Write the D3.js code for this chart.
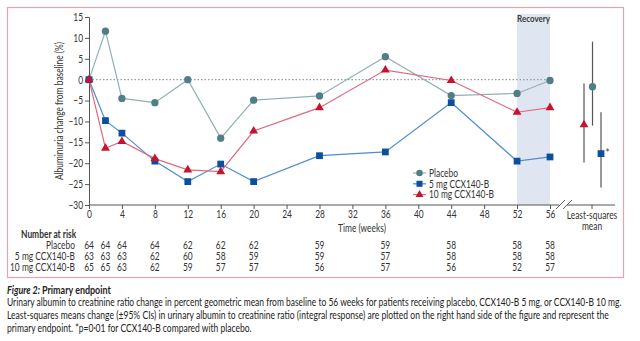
<!DOCTYPE html>
<html>
<head>
<meta charset="utf-8">
<title>Primary endpoint</title>
<script src="https://cdn.jsdelivr.net/npm/d3@7"></script>
<style>
  body { margin: 0; background: #fff; }
  svg text { font-family: Lato, "Open Sans", sans-serif; fill: #333; }
</style>
</head>
<body>
<script>
// weeks at which albuminuria was measured
var weeks = [0, 2, 4, 8, 12, 16, 20, 28, 36, 44, 52, 56];

// percent change from baseline, geometric mean
var placebo = [0, 11.6, -4.5, -5.5, 0, -14.0, -4.9, -3.9, 5.5, -3.8, -3.3, -0.2];
var dose5 = [0, -9.8, -12.8, -19.5, -24.4, -20.2, -24.4, -18.2, -17.3, -5.5, -19.5, -18.5];
var dose10 = [0, -16.4, -14.8, -18.9, -21.6, -22.0, -12.3, -6.7, 2.3, -0.2, -7.8, -6.7];

// least-squares means with 95% CI
var lsGroups = ["10 mg CCX140-B", "Placebo", "5 mg CCX140-B"];
var lsMean = [-10.8, -1.7, -17.7];
var lsLow = [-19.8, -11.0, -25.8];
var lsHigh = [-0.9, 9.1, -7.8];

// number at risk
var riskLabels = ["Placebo", "5 mg CCX140-B", "10 mg CCX140-B"];
var riskPlacebo = [64, 64, 64, 64, 62, 62, 62, 59, 59, 58, 58, 58];
var risk5 = [63, 63, 63, 62, 60, 58, 59, 59, 57, 58, 58, 58];
var risk10 = [65, 65, 63, 62, 59, 57, 57, 56, 57, 56, 52, 57];

var xTicks = d3.range(0, 57, 4);
var yTicks = d3.range(-30, 16, 5);

var width = 640, height = 341;
var K = 0.8; // horizontal squeeze to get a condensed face

var svg = d3.select("body").append("svg")
    .attr("width", width)
    .attr("height", height);

var x = d3.scaleLinear().domain([0, 56]).range([89, 550]);
var y = d3.scaleLinear().domain([-30, 15]).range([205, 17]);
var xLs = d3.scalePoint().domain(lsGroups).range([584, 601]);

var series = [
    {name: "Placebo", values: placebo, line: "#93b1b4", mark: "#4f7f85", shape: d3.symbolCircle, size: 42},
    {name: "5 mg CCX140-B", values: dose5, line: "#4f8bd0", mark: "#0b4f9f", shape: d3.symbolSquare, size: 46},
    {name: "10 mg CCX140-B", values: dose10, line: "#df6a7e", mark: "#c5142f", shape: d3.symbolTriangle, size: 34}
];
var lsColor = {"Placebo": series[0], "5 mg CCX140-B": series[1], "10 mg CCX140-B": series[2]};

// condensed text at (tx, ty)
function label(parent, tx, ty, str, size, anchor) {
    return parent.append("text")
        .attr("transform", "translate(" + tx + "," + ty + ") scale(" + K + ",1)")
        .attr("text-anchor", anchor || "start")
        .attr("font-size", size)
        .text(str);
}

// squeeze the tick labels a d3 axis made
function condenseTicks(g) {
    g.selectAll("text").each(function () {
        var t = d3.select(this);
        t.attr("x", (+t.attr("x") || 0) / K).attr("transform", "scale(" + K + ",1)");
    });
}

// frame
svg.append("rect")
    .attr("x", 7.5).attr("y", 7.5)
    .attr("width", 616).attr("height", 270)
    .attr("fill", "none")
    .attr("stroke", "#e4a3b5")
    .attr("stroke-width", 1.2);

// recovery period
svg.append("rect")
    .attr("x", x(52)).attr("y", 14)
    .attr("width", x(56) - x(52)).attr("height", y(-30) - 14)
    .attr("fill", "#dfe6f1");
label(svg, (x(52) + x(56)) / 2, 22, "Recovery", 10, "middle")
    .attr("font-weight", "bold")
    .style("fill", "#3a3a3a");

// baseline reference
svg.append("line")
    .attr("x1", x(0)).attr("x2", x(56))
    .attr("y1", y(0)).attr("y2", y(0))
    .attr("stroke", "#8aa2a4")
    .attr("stroke-width", 1.1)
    .attr("stroke-dasharray", "1.5,2");

// y axis
var gy = svg.append("g")
    .attr("transform", "translate(" + x(0) + ",0)")
    .call(d3.axisLeft(y).tickValues(yTicks).tickSize(4).tickSizeOuter(0)
        .tickFormat(function (d) { return d < 0 ? "\u2212" + Math.abs(d) : d; }));
gy.selectAll("text").attr("font-size", 10.5).attr("x", -6);
gy.selectAll("line, path").attr("stroke", "#555");
condenseTicks(gy);

svg.append("text")
    .attr("transform", "translate(63," + y(-7.5) + ") rotate(-90) scale(" + K + ",1)")
    .attr("text-anchor", "middle")
    .attr("font-size", 10.5)
    .text("Albuminuria change from baseline (%)");

// x axis
var gx = svg.append("g")
    .attr("transform", "translate(0," + y(-30) + ")")
    .call(d3.axisBottom(x).tickValues(xTicks).tickSize(4).tickSizeOuter(0));
gx.select(".domain").remove();
gx.selectAll("text").attr("font-size", 10.5).attr("y", 6);
gx.selectAll("line").attr("stroke", "#555");
condenseTicks(gx);

var axisY = y(-30);
svg.append("line")
    .attr("x1", x(0)).attr("x2", 559)
    .attr("y1", axisY).attr("y2", axisY)
    .attr("stroke", "#555");
svg.append("line")
    .attr("x1", 567).attr("x2", 615)
    .attr("y1", axisY).attr("y2", axisY)
    .attr("stroke", "#555");
[556, 563].forEach(function (bx) {
    svg.append("line")
        .attr("x1", bx).attr("x2", bx + 9)
        .attr("y1", axisY + 4).attr("y2", axisY - 5)
        .attr("stroke", "#555").attr("stroke-width", 0.9);
});

// least-squares tick and label
svg.append("line")
    .attr("x1", 592).attr("x2", 592)
    .attr("y1", axisY).attr("y2", axisY + 4)
    .attr("stroke", "#555");
label(svg, 592, 219, "Least-squares", 10.5, "middle");
label(svg, 592, 230, "mean", 10.5, "middle");

label(svg, 362, 232, "Time (weeks)", 10.5, "middle");

// series lines and markers
var line = d3.line()
    .x(function (d, i) { return x(weeks[i]); })
    .y(function (d) { return y(d); });

series.forEach(function (s) {
    svg.append("path")
        .datum(s.values)
        .attr("d", line)
        .attr("fill", "none")
        .attr("stroke", s.line)
        .attr("stroke-width", 1.2);
});

series.forEach(function (s) {
    svg.selectAll(null)
        .data(s.values)
        .enter()
        .append("path")
        .attr("transform", function (d, i) { return "translate(" + x(weeks[i]) + "," + y(d) + ")"; })
        .attr("d", d3.symbol().type(s.shape).size(s.size))
        .attr("fill", s.mark);
});

// least-squares means with CI
lsGroups.forEach(function (g, i) {
    var s = lsColor[g];
    svg.append("line")
        .attr("x1", xLs(g)).attr("x2", xLs(g))
        .attr("y1", y(lsHigh[i])).attr("y2", y(lsLow[i]))
        .attr("stroke", "#555").attr("stroke-width", 1.2);
    svg.append("path")
        .attr("transform", "translate(" + xLs(g) + "," + y(lsMean[i]) + ")")
        .attr("d", d3.symbol().type(s.shape).size(s.size))
        .attr("fill", s.mark);
});
label(svg, xLs("5 mg CCX140-B") + 4.5, y(lsMean[2]) + 3, "*", 12);

// legend
var legend = svg.append("g").attr("transform", "translate(413,173)");
series.forEach(function (s, i) {
    var row = legend.append("g").attr("transform", "translate(0," + (i * 10.8) + ")");
    row.append("line")
        .attr("x1", 0).attr("x2", 13)
        .attr("stroke", s.line).attr("stroke-width", 1.2);
    row.append("path")
        .attr("transform", "translate(6.5,0)")
        .attr("d", d3.symbol().type(s.shape).size(s.size * 0.8))
        .attr("fill", s.mark);
    label(row, 16, 3.8, s.name, 10.5);
});

// number at risk table
label(svg, 21, 237.5, "Number at risk", 10.5).attr("font-weight", "bold");

[riskPlacebo, risk5, risk10].forEach(function (row, r) {
    var ry = 248.8 + r * 11;
    label(svg, 75, ry, riskLabels[r], 10.5, "end");
    row.forEach(function (d, i) {
        label(svg, x(weeks[i]), ry, d, 10.5, "middle");
    });
});

// caption, each line squeezed to its column width
function fitLine(tx, ty, w, size) {
    var t = svg.append("text")
        .attr("font-size", size)
        .style("fill", "#222");
    return {
        node: t,
        fit: function () {
            var k = w / t.node().getComputedTextLength();
            t.attr("transform", "translate(" + tx + "," + ty + ") scale(" + k + ",1)");
            return t;
        }
    };
}

var title = fitLine(7, 294, 104, 11);
title.node.attr("font-weight", "bold");
title.node.append("tspan").attr("font-style", "italic").text("Figure 2: ");
title.node.append("tspan").text("Primary endpoint");
title.fit();

var captionLines = [
    "Urinary albumin to creatinine ratio change in percent geometric mean from baseline to 56 weeks for patients receiving placebo, CCX140-B 5 mg, or CCX140-B 10 mg.",
    "Least-squares means change (\u00b195% CIs) in urinary albumin to creatinine ratio (integral response) are plotted on the right hand side of the figure and represent the",
    "primary endpoint. *p=0\u00b701 for CCX140-B compared with placebo."
];
var captionWidths = [615, 602, 245];
captionLines.forEach(function (t, i) {
    var c = fitLine(7, 306 + i * 12.8, captionWidths[i], 10.5);
    c.node.text(t);
    c.fit();
});
</script>
</body>
</html>
